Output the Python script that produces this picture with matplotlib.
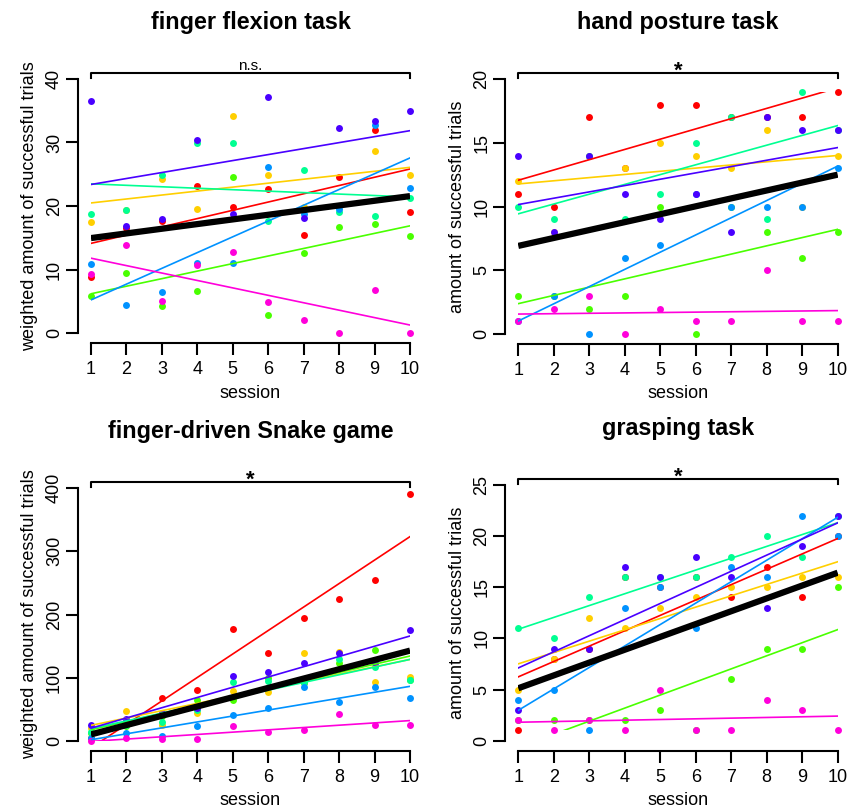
import numpy as np
import matplotlib.pyplot as plt
import matplotlib.transforms as mtransforms
from matplotlib.patches import Rectangle

plt.rcParams['font.family'] = ['Liberation Sans', 'DejaVu Sans']

sessions = np.arange(1, 11)

# one colour per subject (close to R rainbow(7))
colors = ['#FF0000', '#FFCF00', '#49FF00', '#00FF92', '#0092FF', '#4900FF', '#FF00DB']

# rows = subjects in colour order, columns = sessions 1..10
flexion = [
    [8.8, 16.5, 17.6, 23.2, 19.9, 22.7, 15.5, 24.5, 31.9, 19.1],
    [17.4, 19.3, 24.3, 19.5, 34.1, 24.9, 19.8, 20.0, 28.6, 24.9],
    [5.9, 9.5, 4.3, 6.6, 24.5, 2.8, 12.6, 16.7, 17.1, 15.3],
    [18.7, 19.3, 24.8, 29.9, 29.9, 17.7, 25.6, 19.0, 18.4, 21.2],
    [10.9, 4.4, 6.5, 11.0, 11.0, 26.1, 18.8, 19.6, 32.8, 22.8],
    [36.5, 16.8, 17.9, 30.4, 18.7, 37.2, 18.1, 32.3, 33.4, 34.9],
    [9.3, 13.9, 5.0, 10.7, 12.7, 4.9, 2.0, 0.0, 6.7, 0.0],
]

posture = [
    [11, 10, 17, 13, 18, 18, 17, 17, 17, 19],
    [12, 8, 14, 13, 15, 14, 13, 16, 10, 14],
    [3, 3, 2, 3, 10, 0, 10, 8, 6, 8],
    [10, 9, 14, 9, 11, 15, 17, 9, 19, 16],
    [1, 3, 0, 6, 7, 11, 10, 10, 10, 13],
    [14, 8, 14, 11, 9, 11, 8, 17, 16, 16],
    [1, 2, 3, 0, 2, 1, 1, 5, 1, 1],
]

snake = [
    [5, 30, 68, 80, 176.5, 139, 194, 224, 254.5, 390.5],
    [20, 47, 25, 45, 79, 78, 139.7, 141, 93, 100.7],
    [12, 23, 40, 65, 65, 100, 91, 124, 144, 96.4],
    [15, 25, 30, 49, 94, 95, 93, 129, 117.5, 96],
    [5, 12, 8, 24, 40.6, 52, 85, 61, 86, 68.5],
    [24.8, 35, 45, 52, 103, 108.6, 124, 139, 123.8, 176],
    [0, 5, 3, 3, 23, 13.7, 17, 42.7, 25, 25.8],
]

grasping = [
    [1, 8, 9, 16, 15, 16, 14, 17, 14, 20],
    [5, 8, 12, 11, 13, 14, 15, 15, 16, 16],
    [2, 2, 2, 2, 3, 1, 6, 9, 9, 15],
    [11, 10, 14, 16, 16, 16, 18, 20, 18, 22],
    [4, 5, 1, 13, 15, 11, 17, 16, 22, 20],
    [3, 9, 9, 17, 16, 18, 16, 13, 19, 22],
    [2, 1, 2, 1, 5, 1, 1, 4, 3, 1],
]

titles = ['finger flexion task', 'hand posture task',
          'finger-driven Snake game', 'grasping task']
ylabels = ['weighted amount of successful trials', 'amount of successful trials',
           'weighted amount of successful trials', 'amount of successful trials']
signif = ['n.s.', '*', '*', '*']
ymax_axis = [40, 20, 400, 25]
ystep = [10, 5, 100, 5]
panels = [flexion, posture, snake, grasping]

# axes boxes in figure fractions (left, bottom, width, height)
boxes = [
    [0.0922, 0.5763, 0.4064, 0.3388],
    [0.5961, 0.5751, 0.4068, 0.3396],
    [0.0922, 0.0727, 0.4064, 0.3373],
    [0.5961, 0.0730, 0.4068, 0.3409],
]


def draw_panel(ax, data, title, ylabel, sig, ytop, step):
    data = np.array(data, dtype=float)
    lo, hi = data.min(), data.max()
    pad = 0.04 * ytop
    ax.set_xlim(1 - 0.36, 10 + 0.36)
    ax.set_ylim(-pad, ytop + pad)

    # fitted lines are clipped to the range of the data
    clip = Rectangle((1, lo), 9, hi - lo, transform=ax.transData)
    xs = np.array([1, 10])

    for row, c in zip(data, colors):
        ax.plot(sessions, row, 'o', color=c, ms=5, mec='none', zorder=2)
    for row, c in zip(data, colors):
        k, b = np.polyfit(sessions, row, 1)
        ln, = ax.plot(xs, k * xs + b, color=c, lw=1.2, zorder=3)
        ln.set_clip_path(clip)

    allx = np.tile(sessions, len(data))
    k, b = np.polyfit(allx, data.ravel(), 1)
    ln, = ax.plot(xs, k * xs + b, color='black', lw=4.5, zorder=4,
                  solid_capstyle='butt')
    ln.set_clip_path(clip)

    # R-like detached axes
    for s in ['top', 'right']:
        ax.spines[s].set_visible(False)
    ax.spines['left'].set_bounds(0, ytop)
    ax.spines['bottom'].set_bounds(1, 10)
    for s in ['left', 'bottom']:
        ax.spines[s].set_linewidth(1.5)
    ax.set_xticks(sessions)
    ax.set_yticks(np.arange(0, ytop + step / 2, step))
    ax.tick_params(direction='out', length=8.5, width=1.5, labelsize=13)
    ax.tick_params(axis='x', pad=4.5)
    ax.tick_params(axis='y', pad=2.5, labelrotation=90)
    for lab in ax.get_yticklabels():
        lab.set_va('center')
    ax.set_xlabel('session', fontsize=13, labelpad=4.5)
    ax.set_ylabel(ylabel, fontsize=13, labelpad=5.5)

    ax.annotate(title, xy=(0.5, 1), xycoords='axes fraction', xytext=(0, 33.5),
                textcoords='offset points', ha='center', va='center',
                fontsize=16.8, fontweight='bold')

    # significance bracket over sessions 1..10
    tr = mtransforms.blended_transform_factory(ax.transData, ax.transAxes)
    ax.plot([1, 1, 10, 10], [0.966, 0.986, 0.986, 0.966], color='black', lw=1.5,
            transform=tr, clip_on=False)
    if sig == '*':
        ax.annotate(sig, xy=(5.5, 0.986), xycoords=tr, xytext=(0, 1),
                    textcoords='offset points', ha='center', va='center',
                    fontsize=16, fontweight='bold')
    else:
        ax.annotate(sig, xy=(5.5, 0.986), xycoords=tr, xytext=(0, -0.5),
                    textcoords='offset points', ha='center', va='bottom',
                    fontsize=11)


fig = plt.figure(figsize=(8.48, 8.10), dpi=100)
for i in range(4):
    ax = fig.add_axes(boxes[i])
    draw_panel(ax, panels[i], titles[i], ylabels[i], signif[i], ymax_axis[i], ystep[i])

fig.savefig('out.png', dpi=100)
